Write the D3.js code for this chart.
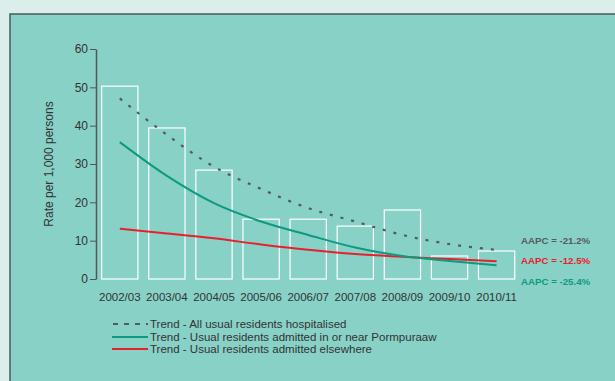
<!DOCTYPE html>
<html><head><meta charset="utf-8">
<script src="https://cdn.jsdelivr.net/npm/d3@7"></script>
<style>body{margin:0;background:#dbeeec;}svg{display:block;font-family:"Liberation Sans",Arial,sans-serif;}</style>
</head><body><svg id="c" width="615" height="381"></svg>
<script>
const categories = ["2002/03","2003/04","2004/05","2005/06","2006/07","2007/08","2008/09","2009/10","2010/11"];
const barValues = [50.3, 39.4, 28.4, 15.6, 15.6, 13.8, 18.0, 6.0, 7.3];
const trendAll = [47.1, 37.6, 29.3, 23.5, 18.5, 15.0, 11.5, 9.1, 7.6];
const trendNear = [35.7, 26.9, 19.8, 15.0, 11.5, 8.2, 6.0, 4.7, 3.6];
const trendElse = [13.1, 11.9, 10.6, 9.0, 7.6, 6.5, 5.8, 5.2, 4.6];
const yTicks = [0,10,20,30,40,50,60];
const legendLabels = ["Trend - All usual residents hospitalised","Trend - Usual residents admitted in or near Pormpuraaw","Trend - Usual residents admitted elsewhere"];
const aapcLabels = ["AAPC = -21.2%","AAPC = -12.5%","AAPC = -25.4%"];

const svg = d3.select("#c");
svg.append("rect").attr("x",10).attr("y",14).attr("width",620).attr("height",380).attr("fill","#88d1c7").attr("stroke","#4b5a5a").attr("stroke-width",1.5);

const x = d3.scaleBand().domain(categories).range([96,520.4]).paddingInner(0.23).paddingOuter(0.12);
const y = d3.scaleLinear().domain([0,60]).range([279,49]);

const yAxis = svg.append("g").attr("transform","translate(96,0)")
  .call(d3.axisLeft(y).tickValues(yTicks).tickSize(6).tickSizeOuter(0));
yAxis.select(".domain").attr("stroke","#555").attr("stroke-width",1.5);
yAxis.selectAll(".tick line").attr("stroke","#555");
yAxis.selectAll(".tick text").attr("fill","#333").attr("font-size","12px").attr("font-family","Liberation Sans, Arial, sans-serif").attr("x",-8);

svg.append("text").attr("transform","translate(53,164) rotate(-90)").attr("text-anchor","middle")
  .attr("font-size","12px").attr("fill","#333").text("Rate per 1,000 persons");

svg.append("g").selectAll("rect").data(categories).join("rect")
  .attr("x",d=>x(d)).attr("width",x.bandwidth())
  .attr("y",(d,i)=>y(barValues[i])).attr("height",(d,i)=>y(0)-y(barValues[i]))
  .attr("fill","none").attr("stroke","#ffffff").attr("stroke-width",1.2);

svg.append("g").selectAll("text").data(categories).join("text")
  .attr("x",d=>x(d)+x.bandwidth()/2).attr("y",301).attr("text-anchor","middle")
  .attr("font-size","11.5px").attr("fill","#333").text(d=>d);

const line = d3.line().x((d,i)=>x(categories[i])+x.bandwidth()/2).y(d=>y(d)).curve(d3.curveMonotoneX);
svg.append("path").datum(trendElse).attr("d",line).attr("fill","none").attr("stroke","#e8202c").attr("stroke-width",2);
svg.append("path").datum(trendNear).attr("d",line).attr("fill","none").attr("stroke","#0d9a80").attr("stroke-width",2);
svg.append("path").datum(trendAll).attr("d",line).attr("fill","none").attr("stroke","#555a5e").attr("stroke-width",2.2).attr("stroke-dasharray","3,8");

const aapcColors = ["#555a5e","#e8202c","#0d9a80"];
const aapcY = [244,264,285];
svg.append("g").selectAll("text").data(aapcLabels).join("text")
  .attr("x",521).attr("y",(d,i)=>aapcY[i]).attr("font-size","9.7px").attr("font-weight","bold")
  .attr("fill",(d,i)=>aapcColors[i]).text(d=>d);

const legY = [324,337,349];
const lg = svg.append("g");
legendLabels.forEach((t,i)=>{
  const ln = lg.append("line").attr("x1",112).attr("x2",148).attr("y1",legY[i]).attr("y2",legY[i])
    .attr("stroke",aapcColors[[0,2,1][i]]).attr("stroke-width",2);
  if(i===0) ln.attr("stroke-dasharray","5,6").attr("x1",113);
  lg.append("text").attr("x",150).attr("y",legY[i]+4).attr("font-size","11.5px").attr("fill","#333").text(t);
});
</script></body></html>
